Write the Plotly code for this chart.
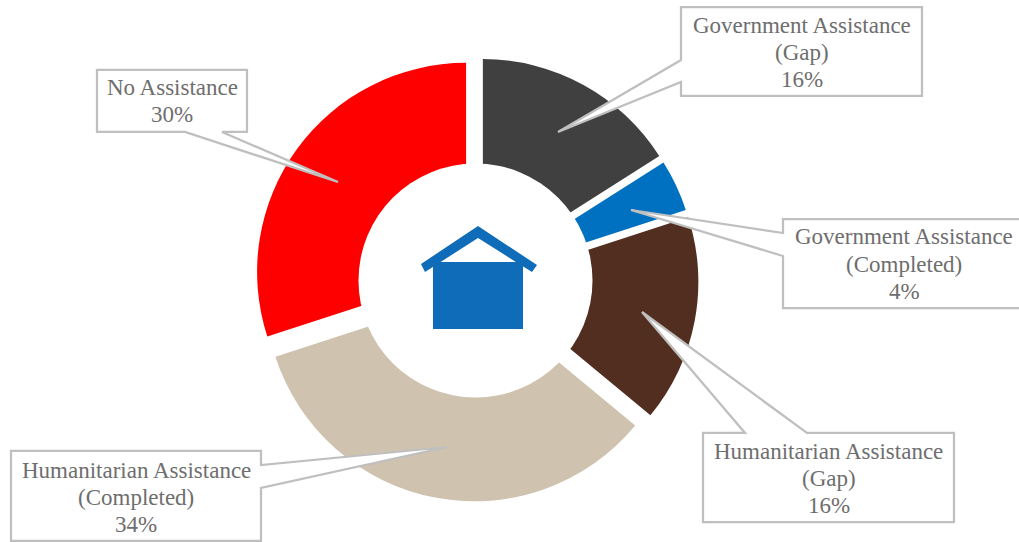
import plotly.graph_objects as go

# Share of households by assistance status
labels = ["Government Assistance (Gap)", "Government Assistance (Completed)",
          "Humanitarian Assistance (Gap)", "Humanitarian Assistance (Completed)", "No Assistance"]
values = [16, 4, 16, 34, 30]
colors = ["#404040", "#0070C0", "#522E20", "#CFC3AF", "#FF0000"]
callout_lines = [["Government Assistance", "(Gap)", "16%"],
                 ["Government Assistance", "(Completed)", "4%"],
                 ["Humanitarian Assistance", "(Gap)", "16%"],
                 ["Humanitarian Assistance", "(Completed)", "34%"],
                 ["No Assistance", "30%"]]

W, H = 1019, 542
CX, CY, R, PULL = 476.6, 279.5, 209, 0.0622
half = R * (1 + PULL)


def path(points):
    """SVG polygon in paper coordinates from top-left pixel positions."""
    return "M" + " L".join(f"{x / W:.5f},{1 - y / H:.5f}" for x, y in points) + " Z"


fig = go.Figure(go.Pie(
    labels=labels, values=values, sort=False, direction="clockwise", rotation=0,
    hole=0.4, pull=[PULL, 0.055, PULL, PULL, PULL], textinfo="none", showlegend=False,
    marker=dict(colors=colors, line=dict(width=0)),
    domain=dict(x=[(CX - half) / W, (CX + half) / W],
                y=[1 - (CY + half) / H, 1 - (CY - half) / H]),
))

# White disc behind the house icon, which sets the inner edge of the ring
fig.add_shape(type="circle", xref="paper", yref="paper", line_width=0, fillcolor="white",
              x0=(475.5 - 117) / W, x1=(475.5 + 117) / W,
              y0=1 - (280.5 + 117) / H, y1=1 - (280.5 - 117) / H)

# Callout outlines: box corners with a wedge running to the slice
callouts = [
    [(681, 7), (922, 7), (922, 96), (681, 96), (681, 82), (558, 132), (681, 60)],
    [(783, 219), (1021, 219), (1021, 308), (783, 308), (783, 256), (631, 210), (783, 233)],
    [(703, 433), (745, 433), (642, 312), (807, 433), (954, 433), (954, 522), (703, 522)],
    [(11, 451), (261, 451), (261, 465), (447, 447), (261, 488), (261, 541), (11, 541)],
    [(97, 70), (247, 70), (247, 132), (222, 132), (338, 182), (185, 132), (97, 132)],
]
for pts in callouts:
    fig.add_shape(type="path", xref="paper", yref="paper", path=path(pts),
                  fillcolor="white", line=dict(color="#BFBFBF", width=2.25))

# Label text, one annotation per line so the leading stays tight
LINE_STEP = 27
centers = [(801.5, 52), (904, 264), (828.5, 478), (136, 497), (172, 101)]
for lines, (x, y) in zip(callout_lines, centers):
    top = y - LINE_STEP * (len(lines) - 1) / 2
    for i, line in enumerate(lines):
        fig.add_annotation(x=x / W, y=1 - (top + i * LINE_STEP) / H, xref="paper", yref="paper",
                           text=line, showarrow=False, xanchor="center", yanchor="middle",
                           font=dict(family="Liberation Serif", size=23, color="#6E6E6E"))

# House icon in the hole
HOUSE = "#0F6CB8"
fig.add_shape(type="path", xref="paper", yref="paper", line_width=0, fillcolor=HOUSE,
              path=path([(433, 262), (523, 262), (523, 329), (433, 329)]))
fig.add_shape(type="path", xref="paper", yref="paper", line_width=0, fillcolor=HOUSE,
              path=path([(478, 226), (537, 265), (532, 272), (478, 238),
                         (425, 272), (421, 264)]))
fig.add_shape(type="path", xref="paper", yref="paper", line_width=0, fillcolor=HOUSE,
              path=path([(443, 262), (433, 268), (433, 262)]))
fig.add_shape(type="path", xref="paper", yref="paper", line_width=0, fillcolor=HOUSE,
              path=path([(513, 262), (523, 268), (523, 262)]))

fig.update_layout(width=W, height=H, margin=dict(l=0, r=0, t=0, b=0),
                  paper_bgcolor="white", plot_bgcolor="white")
fig.write_html("out.html", config=dict(displayModeBar=False))
